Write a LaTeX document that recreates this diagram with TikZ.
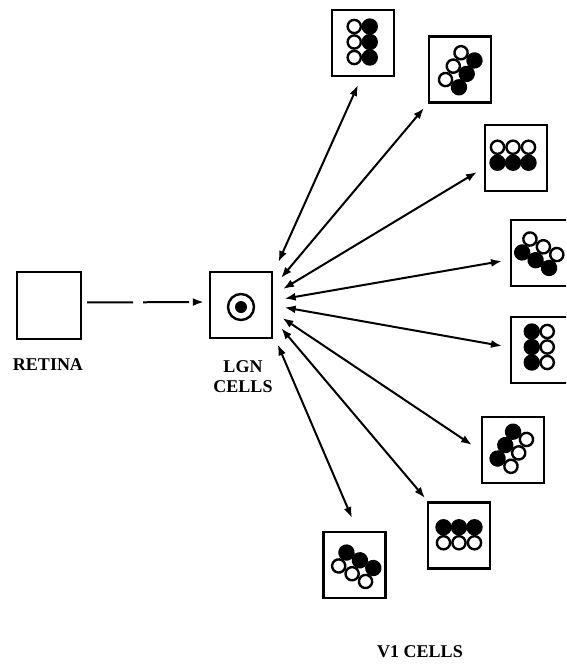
\documentclass[tikz,border=0pt]{standalone}
\usepackage{fontspec}
\setmainfont{Liberation Serif}
\usetikzlibrary{arrows.meta}
\tikzset{
  rf/.pic={
    \foreach \yy in {-15.5,0,15.5} \fill[black] (7.75,\yy) circle[radius=8.2pt];
    \foreach \yy in {-15.5,0,15.5} \draw[line width=2.4pt, fill=white] (-7.75,\yy) circle[radius=6.6pt];
  }
}
\begin{document}
\begin{tikzpicture}[x=1pt,y=-1pt,
  cellbox/.style={draw, line width=2.4pt, minimum width=62pt, minimum height=66pt, inner sep=0pt},
  lbl/.style={font=\fontsize{18}{20}\selectfont\bfseries, align=center, inner sep=0pt},
  conn/.style={line width=2pt, {Latex[length=11pt,width=8pt]}-{Latex[length=11pt,width=8pt]}},
  feed/.style={line width=2pt, dash pattern=on 46pt off 10pt, -{Latex[length=11pt,width=8pt]}, shorten <=5pt, shorten >=5pt}
]
\useasboundingbox (0,0) rectangle (566,667);
\clip (0,0) rectangle (566,667);

% retina and LGN
\node[cellbox, minimum width=64pt, minimum height=67pt] (ret) at (49,305.5) {};
\node[lbl] (retlbl) at (48,365) {RETINA};
\node[cellbox] (lgn) at (241,305) {};
\draw[line width=2.4pt] (241,307) circle[radius=13pt];
\fill (241,307) circle[radius=6pt];
\node[lbl] (lgnlbl) at (243,377) {LGN\\CELLS};
\draw[feed] ([yshift=3pt]ret.east) -- ([yshift=3pt]lgn.west);

% V1 cells
\node[cellbox] (v1) at (363,43) {};
\node[cellbox] (v2) at (460,69.5) {};
\node[cellbox] (v3) at (516,158) {};
\node[cellbox] (v4) at (542,253) {};
\node[cellbox] (v5) at (542,350) {};
\node[cellbox] (v6) at (513,450) {};
\node[cellbox] (v7) at (459,535.5) {};
\node[cellbox] (v8) at (354.5,565) {};

\pic at (362,42) {rf};
\pic[rotate=-30] at (460,70) {rf};
\pic[rotate=-90] at (513,155) {rf};
\pic[rotate=-120] at (539.5,253.5) {rf};
\pic[rotate=180] at (539.5,347) {rf};
\pic[rotate=150] at (512,449) {rf};
\pic[rotate=90] at (459,535) {rf};
\pic[rotate=60] at (356,567) {rf};

\node[lbl] (v1lbl) at (420,652) {V1 CELLS};

% connector end points
\coordinate (s1) at (278.4,262);
\coordinate (s2) at (281,278);
\coordinate (s3) at (283,289);
\coordinate (s4) at (284.6,298.7);
\coordinate (s5) at (284.6,307.4);
\coordinate (s6) at (282.4,318);
\coordinate (s7) at (281.3,328.2);
\coordinate (s8) at (277.7,344.4);
\coordinate (e1) at (358,85);
\coordinate (e2) at (424,108);
\coordinate (e3) at (477,172);
\coordinate (e4) at (502,261);
\coordinate (e5) at (502,346);
\coordinate (e6) at (472,445);
\coordinate (e7) at (425,498);
\coordinate (e8) at (352,518);
\foreach \i in {1,...,8} \draw[conn] (s\i) -- (e\i);
\end{tikzpicture}
\end{document}
